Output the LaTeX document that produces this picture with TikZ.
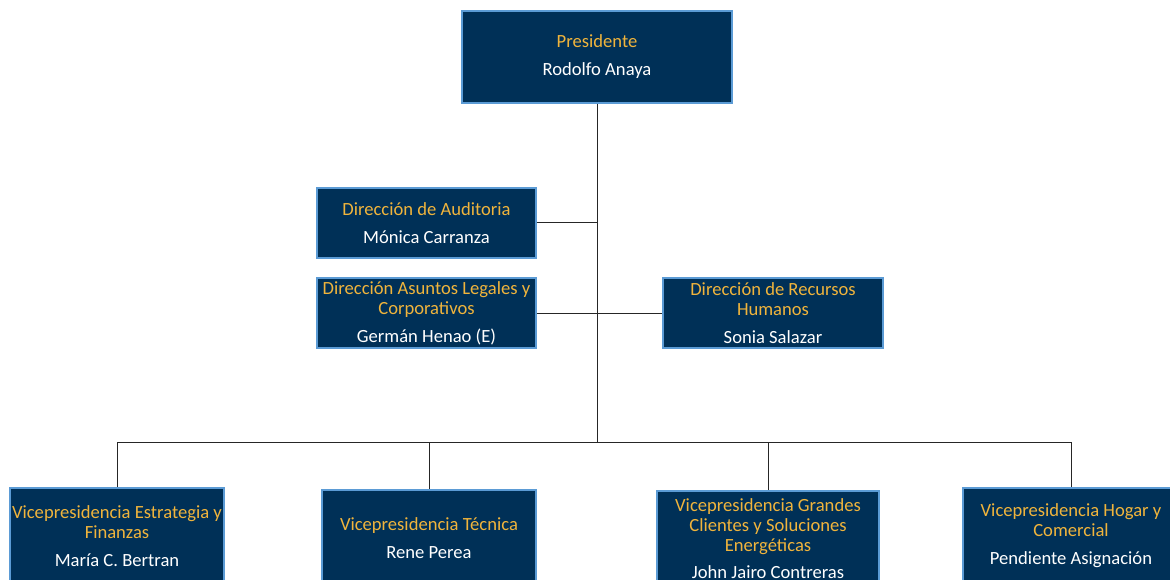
\documentclass[tikz,border=0pt]{standalone}
\usepackage{fontspec}
\setmainfont{Carlito}
\usepackage{tikz}
\usetikzlibrary{positioning}

\definecolor{navy}{RGB}{0,48,87}
\definecolor{edgeblue}{RGB}{91,155,213}
\definecolor{gold}{RGB}{240,180,60}

\begin{document}
\begin{tikzpicture}[x=1pt,y=-1pt,
    unit/.style={draw=edgeblue, line width=1.2pt, fill=navy, text=gold,
      align=center, inner sep=0pt, font=\fontsize{18.6}{20}\selectfont},
    link/.style={draw=black!85, line width=1pt}]
    \clip (0,0) rectangle (1170,580);
    \fill[white] (0,0) rectangle (1170,580);

    % top
    \node [unit, minimum width=270pt, minimum height=92pt] (pres) at (597,57)
      {Presidente\\[8pt]\color{white}Rodolfo Anaya};

    % staff
    \node [unit, minimum width=219pt, minimum height=70pt] (aud) at (426.5,223)
      {Dirección de Auditoria\\[8pt]\color{white}Mónica Carranza};
    \node [unit, minimum width=219pt, minimum height=70pt] (leg) at (426.5,313)
      {Dirección Asuntos Legales y\\Corporativos\\[8pt]\color{white}Germán Henao (E)};
    \node [unit, minimum width=220pt, minimum height=70pt] (rh) at (773,313)
      {Dirección de Recursos\\Humanos\\[8pt]\color{white}Sonia Salazar};

    % vicepresidencias
    \node [unit, minimum width=214pt, minimum height=96pt] (vpe) at (117,536)
      {Vicepresidencia Estrategia y\\Finanzas\\[8pt]\color{white}María C. Bertran};
    \node [unit, minimum width=214pt, minimum height=96pt] (vpt) at (429,538)
      {Vicepresidencia Técnica\\[8pt]\color{white}Rene Perea};
    \node [unit, minimum width=222pt, minimum height=96pt] (vpg) at (768,539)
      {Vicepresidencia Grandes\\Clientes y Soluciones\\Energéticas\\[7pt]\color{white}John Jairo Contreras};
    \node [unit, minimum width=216pt, minimum height=96pt] (vph) at (1071,536)
      {Vicepresidencia Hogar y\\Comercial\\[8pt]\color{white}Pendiente Asignación};

    \coordinate (bar) at (597,442);
    \draw[link] (pres.south) -- (bar);
    \draw[link] (aud.east) -- (aud.east -| pres.south);
    \draw[link] (leg.east) -- (rh.west);
    \draw[link] (vpe.north |- bar) -- (vph.north |- bar);
    \foreach \v in {vpe,vpt,vpg,vph} {
      \draw[link] (\v.north |- bar) -- (\v.north);
    }
\end{tikzpicture}
\end{document}
